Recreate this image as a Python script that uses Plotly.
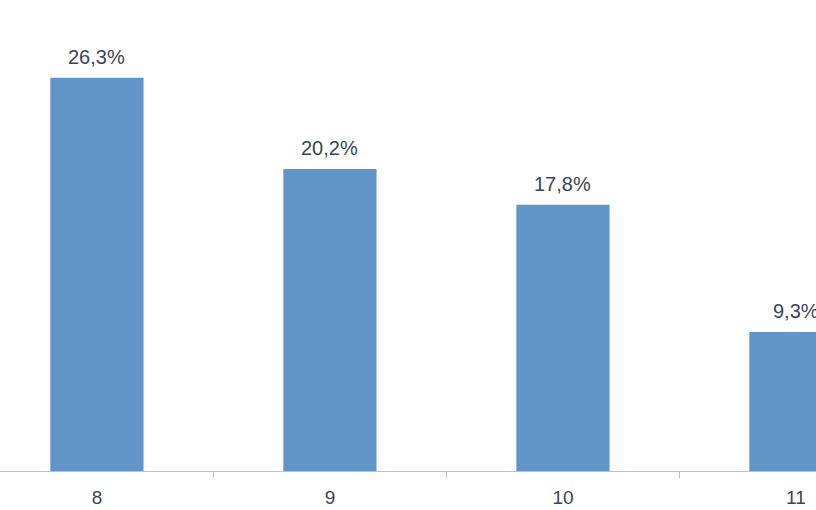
import plotly.graph_objects as go

categories = ["8", "9", "10", "11"]
values = [26.3, 20.2, 17.8, 9.3]
labels = ["26,3%", "20,2%", "17,8%", "9,3%"]

FONT = "Liberation Sans, Arial"
TXT = "#37465a"

fig = go.Figure()
fig.add_trace(go.Bar(
    x=categories, y=values, width=0.4,
    marker=dict(color="#6195C8", line=dict(width=0)),
    hoverinfo="skip",
))
for i, (v, t) in enumerate(zip(values, labels)):
    fig.add_annotation(x=i, y=v, text=t, showarrow=False, yanchor="bottom",
                       yshift=8, font=dict(family=FONT, size=20, color=TXT))

fig.update_layout(
    width=816, height=510,
    margin=dict(l=0, r=0, t=0, b=39, pad=0),
    paper_bgcolor="white", plot_bgcolor="white",
    showlegend=False,
    xaxis=dict(type="category", range=[-0.416, 3.086], showline=True, linecolor="#c0c0c0",
               linewidth=1, ticks="outside", tickson="boundaries", ticklen=6, tickcolor="#c0c0c0",
               showgrid=False, zeroline=False, automargin=False, ticklabelstandoff=9,
               tickfont=dict(family=FONT, size=19, color=TXT)),
    yaxis=dict(range=[0, 31.5], visible=False, showgrid=False, zeroline=False, automargin=False),
)
fig.write_html("out.html", config={"displayModeBar": False},
               post_script="document.body.style.margin='0';")
